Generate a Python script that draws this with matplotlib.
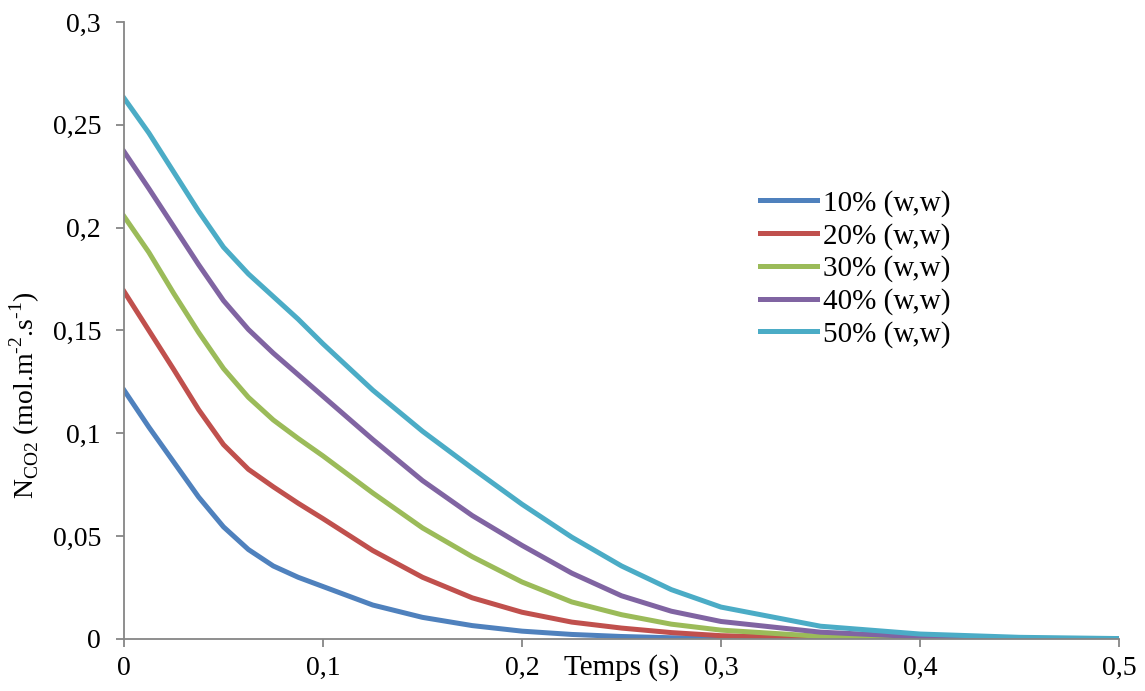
import numpy as np
import matplotlib
matplotlib.use("Agg")
import matplotlib.pyplot as plt

plt.rcParams['font.family'] = ['Liberation Serif', 'DejaVu Serif']
plt.rcParams['mathtext.fontset'] = 'custom'
plt.rcParams['mathtext.rm'] = 'Liberation Serif'

# time (s)
t = [0, 0.0125, 0.025, 0.0375, 0.05, 0.0625, 0.075, 0.0875, 0.1, 0.125, 0.15,
     0.175, 0.2, 0.225, 0.25, 0.275, 0.3, 0.35, 0.4, 0.45, 0.5]

# CO2 flux for each mass fraction (mol.m-2.s-1)
n10 = [0.121, 0.103, 0.086, 0.069, 0.0545, 0.0435, 0.0355, 0.030, 0.0255, 0.0165, 0.0105,
       0.0065, 0.0038, 0.0022, 0.0012, 0.0006, 0.0003, 0.0001, 0.0, 0.0, 0.0]
n20 = [0.169, 0.150, 0.131, 0.1115, 0.0945, 0.0825, 0.074, 0.066, 0.0585, 0.043, 0.030,
       0.020, 0.013, 0.0082, 0.0053, 0.0031, 0.0016, 0.0004, 0.0001, 0.0, 0.0]
n30 = [0.2055, 0.188, 0.168, 0.149, 0.1315, 0.1175, 0.1065, 0.0975, 0.089, 0.071, 0.054,
       0.040, 0.0277, 0.018, 0.0118, 0.0072, 0.0043, 0.0013, 0.0003, 0.0001, 0.0]
n40 = [0.237, 0.219, 0.2005, 0.182, 0.1645, 0.1505, 0.139, 0.1285, 0.118, 0.097, 0.077,
       0.060, 0.0455, 0.032, 0.021, 0.0135, 0.0085, 0.0033, 0.0011, 0.0003, 0.0001]
n50 = [0.263, 0.246, 0.227, 0.208, 0.1905, 0.1775, 0.1665, 0.1555, 0.1435, 0.121, 0.101,
       0.083, 0.0655, 0.0495, 0.0355, 0.024, 0.0155, 0.0062, 0.0024, 0.0008, 0.0002]

labels = ['10% (w,w)', '20% (w,w)', '30% (w,w)', '40% (w,w)', '50% (w,w)']
colors = ['#4F81BD', '#C0504D', '#9BBB59', '#8064A2', '#4BACC6']

fig = plt.figure(figsize=(11.45, 6.91), dpi=100)
ax = fig.add_axes([0.1083, 0.0753, 0.869, 0.8929])

for y, lab, c in zip([n10, n20, n30, n40, n50], labels, colors):
    ax.plot(t, y, color=c, lw=3.6, label=lab, solid_joinstyle='round')

ax.set_xlim(0, 0.5)
ax.set_ylim(0, 0.3)
ax.set_xticks([0, 0.1, 0.2, 0.3, 0.4, 0.5])
ax.set_xticklabels(['0', '0,1', '0,2', '0,3', '0,4', '0,5'])
ax.set_yticks([0, 0.05, 0.1, 0.15, 0.2, 0.25, 0.3])
ax.set_yticklabels(['0', '0,05', '0,1', '0,15', '0,2', '0,25', '0,3'])

for s in ['top', 'right']:
    ax.spines[s].set_visible(False)
for s in ['left', 'bottom']:
    ax.spines[s].set_color('#868686')
    ax.spines[s].set_linewidth(1.3)
ax.tick_params(axis='both', colors='#868686', labelcolor='black', length=5.5,
               width=1.3, labelsize=20)
ax.tick_params(axis='y', pad=11)
ax.tick_params(axis='x', pad=7)

# hyphen (U+2010) instead of the long mathtext minus
ax.text(-0.0995, 0.395,
        'N$_{\\mathrm{CO2}}$ (mol.m$^{\\mathrm{\u20102}}$.s$^{\\mathrm{\u20101}}$)',
        transform=ax.transAxes, rotation=90, ha='center', va='center', fontsize=20)
ax.text(0.5, -0.047, 'Temps (s)', transform=ax.transAxes, ha='center', va='center',
        fontsize=21)

ax.legend(loc='upper left', bbox_to_anchor=(0.639, 0.728), frameon=False, fontsize=21,
          handlelength=1.95, handletextpad=0.2, labelspacing=0.2, borderpad=0,
          borderaxespad=0)

fig.savefig('out.png', dpi=100)
